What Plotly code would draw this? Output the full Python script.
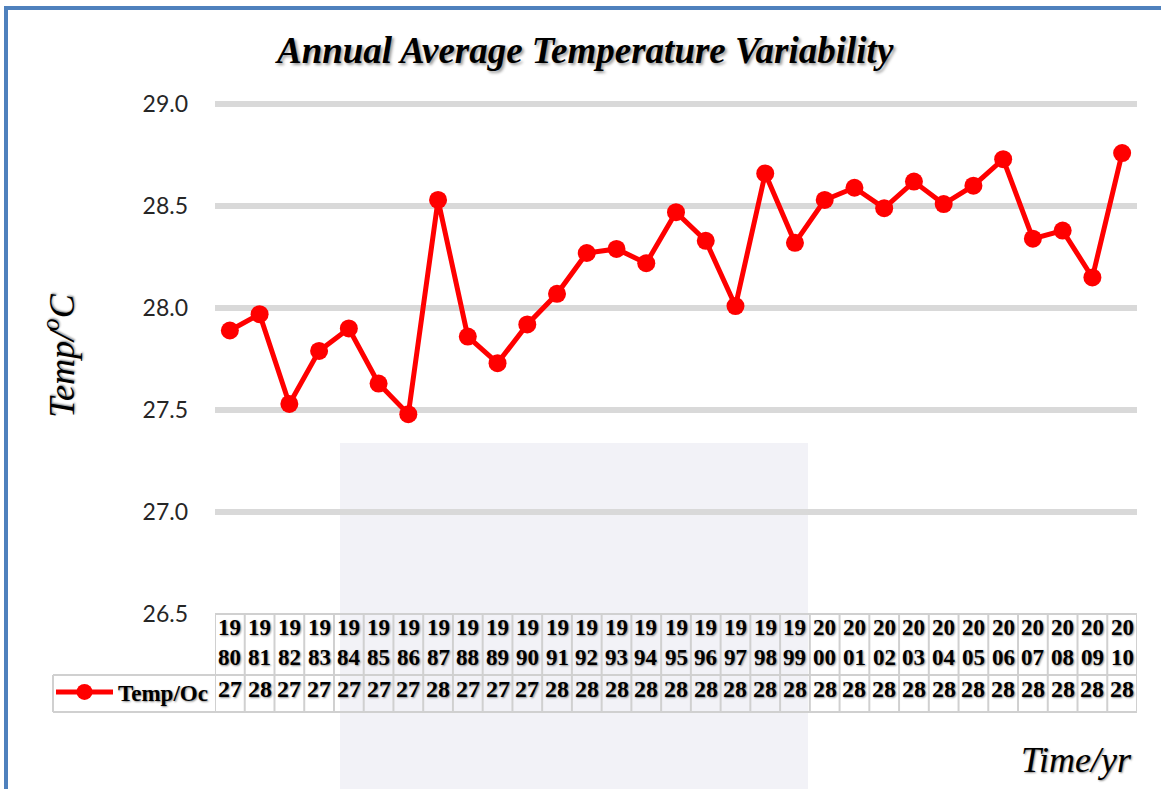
import plotly.graph_objects as go

years = ['1980', '1981', '1982', '1983', '1984', '1985', '1986', '1987', '1988', '1989',
         '1990', '1991', '1992', '1993', '1994', '1995', '1996', '1997', '1998', '1999',
         '2000', '2001', '2002', '2003', '2004', '2005', '2006', '2007', '2008', '2009', '2010']

temp = [27.89, 27.97, 27.53, 27.79, 27.90, 27.63, 27.48, 28.53, 27.86, 27.73,
        27.92, 28.07, 28.27, 28.29, 28.22, 28.47, 28.33, 28.01, 28.66, 28.32,
        28.53, 28.59, 28.49, 28.62, 28.51, 28.60, 28.73, 28.34, 28.38, 28.15, 28.76]

# values as printed in the data table under the chart
table_vals = ['27', '28', '27', '27', '27', '27', '27', '28', '27', '27',
              '27', '28', '28', '28', '28', '28', '28', '28', '28', '28',
              '28', '28', '28', '28', '28', '28', '28', '28', '28', '28', '28']

y_ticks = [26.5, 27.0, 27.5, 28.0, 28.5, 29.0]
y_top = 29.03  # a little headroom so the 29.0 gridline is drawn

W, H = 1161, 789
ML, MR, MT, MB = 215, 24, 98, 175
PW, PH = W - ML - MR, H - MT - MB


def py(p):
    # pixel row -> paper y
    return (H - MB - p) / PH


def px(p):
    # pixel column -> paper x
    return (p - ML) / PW


RED = '#FF0000'
GRID = '#D9D9D9'
TBL = '#D0D0D0'
serif = 'Liberation Serif'
shadow = '1px 1px 2px #8c8c8c'

fig = go.Figure()
fig.add_trace(go.Scatter(
    x=years, y=temp, mode='lines+markers', name='Temp/Oc',
    line=dict(color=RED, width=5),
    marker=dict(color=RED, size=18),
    showlegend=True,
))

shapes = []
# faint watermark block
shapes.append(dict(type='rect', xref='paper', yref='paper', x0=px(340), x1=px(808),
                   y0=py(800), y1=py(443), fillcolor='rgba(232,232,240,0.55)',
                   line=dict(width=0), layer='below'))
# outer blue frame
shapes.append(dict(type='rect', xref='paper', yref='paper', x0=px(6), x1=px(1200),
                   y0=py(820), y1=py(8), line=dict(color='#4F81BD', width=4),
                   fillcolor='rgba(0,0,0,0)'))

# data table grid
row_top, row_mid, row_bot = 614, 675, 712
n = len(years)
for i in range(n + 1):
    shapes.append(dict(type='line', xref='x', yref='paper', x0=i - 0.5, x1=i - 0.5,
                       y0=py(row_bot), y1=py(row_top), line=dict(color=TBL, width=2)))
shapes.append(dict(type='line', xref='x', yref='paper', x0=-0.5, x1=n - 0.5,
                   y0=py(row_top), y1=py(row_top), line=dict(color=TBL, width=2)))
for r in (row_mid, row_bot):
    shapes.append(dict(type='line', xref='paper', yref='paper', x0=px(53), x1=1,
                       y0=py(r), y1=py(r), line=dict(color=TBL, width=2)))
shapes.append(dict(type='line', xref='paper', yref='paper', x0=px(53), x1=px(53),
                   y0=py(row_bot), y1=py(row_mid), line=dict(color=TBL, width=2)))

annotations = []
tfont = dict(family=serif, size=23, color='black', weight='bold', shadow=shadow)
vfont = dict(family=serif, size=24, color='black', weight='bold', shadow=shadow)
for i, yr in enumerate(years):
    annotations.append(dict(x=i, y=py(642), xref='x', yref='paper',
                            text=yr[:2] + '<br>' + yr[2:],
                            showarrow=False, font=tfont, yanchor='middle'))
    annotations.append(dict(x=i, y=py(689), xref='x', yref='paper', text=table_vals[i],
                            showarrow=False, font=vfont, yanchor='middle'))

annotations.append(dict(x=px(1134), y=py(760), xref='paper', yref='paper', text='Time/yr',
                        showarrow=False, xanchor='right', yanchor='middle',
                        font=dict(family=serif, size=36, color='black', style='italic',
                                  shadow=shadow)))

fig.update_layout(
    width=W, height=H,
    margin=dict(l=ML, r=MR, t=MT, b=MB, autoexpand=False),
    paper_bgcolor='white', plot_bgcolor='white',
    title=dict(text='<b>Annual Average Temperature Variability</b>',
               xref='container', x=0.504, xanchor='center',
               yref='container', y=1 - 50 / H, yanchor='middle',
               font=dict(family=serif, size=37, color='black', style='italic',
                         shadow='2px 2px 3px #9a9a9a')),
    xaxis=dict(type='category', range=[-0.5, n - 0.5], showticklabels=False,
               showgrid=False, zeroline=False, showline=False, ticks=''),
    yaxis=dict(range=[y_ticks[0], y_top], tickvals=y_ticks, tickformat='.1f',
               showgrid=True, gridcolor=GRID, gridwidth=6, zeroline=False,
               showline=False, ticks='', ticklabelstandoff=26,
               tickfont=dict(family='Lato', size=23, color='#262626'),
               title=dict(text='Temp/<sup>o</sup>C', standoff=56,
                          font=dict(family=serif, size=36, color='black', style='italic',
                                    shadow=shadow))),
    legend=dict(x=px(51), xanchor='left', y=py(692), yanchor='middle',
                bgcolor='rgba(0,0,0,0)', itemwidth=57,
                font=dict(family=serif, size=23, color='black', weight='bold',
                          shadow=shadow)),
    shapes=shapes,
    annotations=annotations,
)

fig.write_html('out.html', config={'displayModeBar': False},
               post_script="document.body.style.margin='0';")
